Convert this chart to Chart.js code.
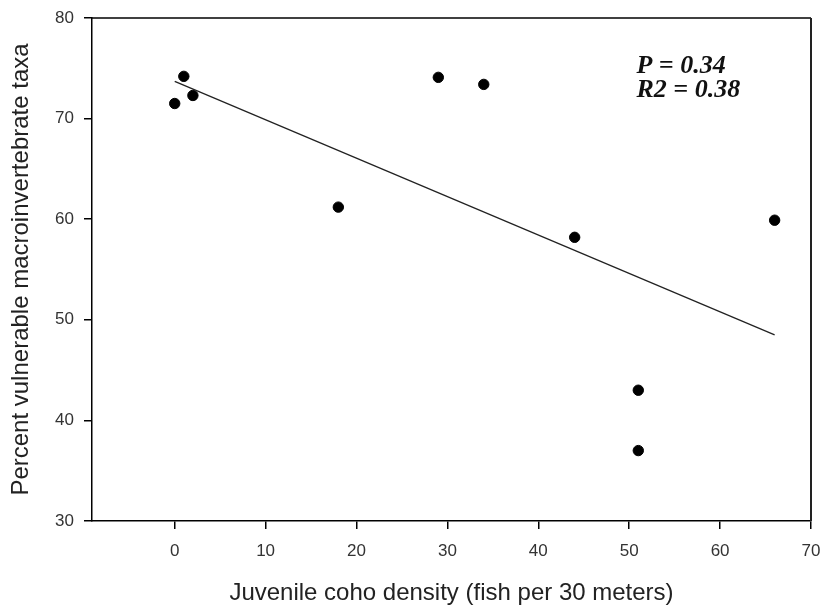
<!DOCTYPE html>
<html>
<head>
<meta charset="utf-8">
<script src="https://cdn.jsdelivr.net/npm/chart.js@4/dist/chart.umd.min.js"></script>
<style>
html,body{margin:0;padding:0;background:#fff;}
#wrap{width:824px;height:609px;position:relative;}
</style>
</head>
<body>
<div id="wrap"><canvas id="c" width="824" height="609"></canvas></div>
<script>
const densityX = [0, 1, 2, 18, 29, 34, 44, 51, 51, 66];
const vulnerableY = [71.5, 74.2, 72.3, 61.2, 74.1, 73.4, 58.2, 43.0, 37.0, 59.9];
const trendX = [0, 66];
const trendY = [73.7, 48.5];
const xTicks = [0, 10, 20, 30, 40, 50, 60, 70];
const yTicks = [30, 40, 50, 60, 70, 80];
const statLines = ['P = 0.34', 'R2 = 0.38'];

const frame = {
  id: 'frame',
  afterDraw(chart) {
    const {ctx, chartArea: a} = chart;
    ctx.save();
    ctx.strokeStyle = '#000';
    ctx.lineWidth = 1.5;
    ctx.beginPath();
    ctx.moveTo(a.left, a.top); ctx.lineTo(a.right, a.top);
    ctx.stroke();
    ctx.strokeStyle = '#222';
    ctx.lineWidth = 2;
    ctx.beginPath();
    ctx.moveTo(a.right, a.top); ctx.lineTo(a.right, a.bottom);
    ctx.stroke();
    // stats text
    const xs = chart.scales.x, ys = chart.scales.y;
    ctx.fillStyle = '#111';
    ctx.font = 'italic bold 26px "Liberation Serif", "Times New Roman", serif';
    ctx.textAlign = 'left';
    ctx.textBaseline = 'alphabetic';
    const tx = xs.getPixelForValue(50.8);
    ctx.fillText(statLines[0], tx, ys.getPixelForValue(74.5));
    ctx.fillText(statLines[1], tx, ys.getPixelForValue(72.1));
    ctx.restore();
  }
};

new Chart(document.getElementById('c'), {
  type: 'scatter',
  data: {
    datasets: [
      {
        type: 'line',
        data: trendX.map((x, i) => ({x, y: trendY[i]})),
        borderColor: '#222',
        borderWidth: 1.3,
        pointRadius: 0,
        fill: false,
        tension: 0
      },
      {
        data: densityX.map((x, i) => ({x, y: vulnerableY[i]})),
        backgroundColor: '#000',
        borderColor: '#000',
        pointRadius: 5.2,
        pointHoverRadius: 5.2
      }
    ]
  },
  options: {
    responsive: false,
    animation: false,
    events: [],
    layout: {padding: {left: 0, right: 13, top: 18, bottom: 0}},
    plugins: {legend: {display: false}, tooltip: {enabled: false}},
    scales: {
      x: {
        type: 'linear',
        min: -9.1,
        max: 70,
        afterBuildTicks(s) { s.ticks = xTicks.map(v => ({value: v})); },
        afterFit(s) { s.height = 88; s.paddingLeft = 0; s.paddingRight = 0; },
        grid: {display: true, drawOnChartArea: false, drawTicks: true, tickLength: 8, color: '#000', lineWidth: 1.5},
        border: {display: true, color: '#000', width: 1.5},
        ticks: {color: '#333', font: {family: 'Liberation Sans, Arial, sans-serif', size: 17}, padding: 12, maxRotation: 0},
        title: {display: true, text: 'Juvenile coho density (fish per 30 meters)', color: '#222',
                font: {family: 'Liberation Sans, Arial, sans-serif', size: 24}, padding: {top: 10, bottom: 1}}
      },
      y: {
        type: 'linear',
        min: 30,
        max: 80,
        afterBuildTicks(s) { s.ticks = yTicks.map(v => ({value: v})); },
        afterFit(s) { s.width = 92; s.paddingTop = 0; s.paddingBottom = 0; },
        grid: {display: true, drawOnChartArea: false, drawTicks: true, tickLength: 8, color: '#000', lineWidth: 1.5},
        border: {display: true, color: '#000', width: 1.5},
        ticks: {color: '#333', font: {family: 'Liberation Sans, Arial, sans-serif', size: 17}, padding: 10},
        title: {display: true, text: 'Percent vulnerable macroinvertebrate taxa', color: '#222',
                font: {family: 'Liberation Sans, Arial, sans-serif', size: 24}, padding: {top: 7, bottom: 8}}
      }
    }
  },
  plugins: [frame]
});
</script>
</body>
</html>
